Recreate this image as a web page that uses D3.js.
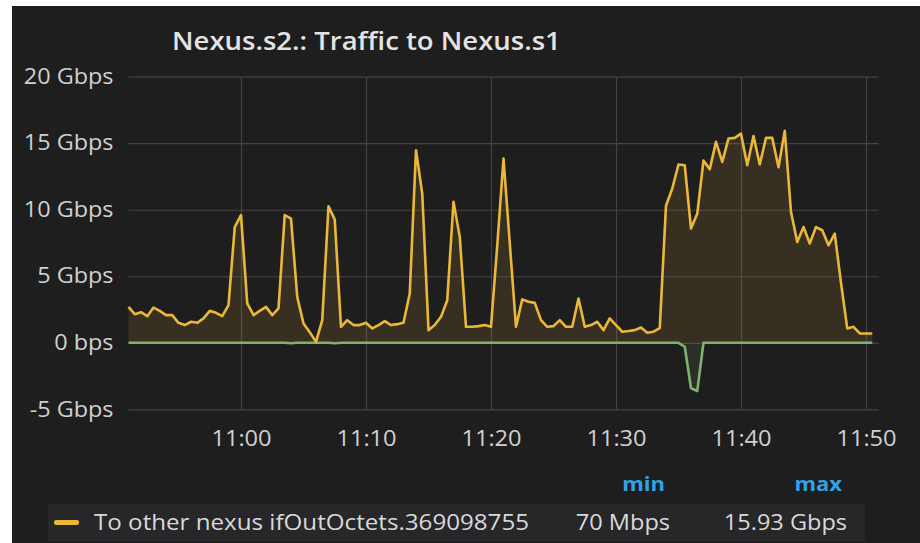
<!DOCTYPE html>
<html><head><meta charset="utf-8">
<script src="https://cdn.jsdelivr.net/npm/d3@7"></script>
<style>body{margin:0;background:#fff}svg{display:block}</style>
</head><body>
<script>
const chartTitle = "Nexus.s2.: Traffic to Nexus.s1";
const times = [
"10:51:00","10:51:30","10:52:00","10:52:30","10:53:00","10:53:30","10:54:00","10:54:30","10:55:00","10:55:30",
"10:56:00","10:56:30","10:57:00","10:57:30","10:58:00","10:58:30","10:59:00","10:59:30","11:00:00","11:00:30",
"11:01:00","11:01:30","11:02:00","11:02:30","11:03:00","11:03:30","11:04:00","11:04:30","11:05:00","11:05:30",
"11:06:00","11:06:30","11:07:00","11:07:30","11:08:00","11:08:30","11:09:00","11:09:30","11:10:00","11:10:30",
"11:11:00","11:11:30","11:12:00","11:12:30","11:13:00","11:13:30","11:14:00","11:14:30","11:15:00","11:15:30",
"11:16:00","11:16:30","11:17:00","11:17:30","11:18:00","11:18:30","11:19:00","11:19:30","11:20:00","11:20:30",
"11:21:00","11:21:30","11:22:00","11:22:30","11:23:00","11:23:30","11:24:00","11:24:30","11:25:00","11:25:30",
"11:26:00","11:26:30","11:27:00","11:27:30","11:28:00","11:28:30","11:29:00","11:29:30","11:30:00","11:30:30",
"11:31:00","11:31:30","11:32:00","11:32:30","11:33:00","11:33:30","11:34:00","11:34:30","11:35:00","11:35:30",
"11:36:00","11:36:30","11:37:00","11:37:30","11:38:00","11:38:30","11:39:00","11:39:30","11:40:00","11:40:30",
"11:41:00","11:41:30","11:42:00","11:42:30","11:43:00","11:43:30","11:44:00","11:44:30","11:45:00","11:45:30",
"11:46:00","11:46:30","11:47:00","11:47:30","11:48:00","11:48:30","11:49:00","11:49:30","11:50:00","11:50:30"
];
// Gbps, "To other nexus ifOutOctets.369098755"
const outGbps = [
2.7,2.15,2.3,2.0,2.65,2.4,2.08,2.08,1.5,1.33,
1.58,1.5,1.83,2.4,2.25,2.0,2.83,8.7,9.6,2.96,
2.08,2.4,2.7,2.08,2.58,9.6,9.33,3.45,1.45,0.8,
0.07,1.7,10.26,9.26,1.2,1.7,1.33,1.33,1.5,1.08,
1.33,1.63,1.33,1.4,1.5,3.7,14.47,11.2,0.95,1.33,
1.95,3.2,10.6,7.96,1.2,1.2,1.25,1.33,1.2,7.3,
13.84,7.5,1.2,3.26,3.08,3.0,1.7,1.2,1.25,1.7,
1.2,1.2,3.33,1.2,1.33,1.58,0.95,1.83,1.33,0.83,
0.88,0.95,1.15,0.75,0.83,1.1,10.3,11.6,13.4,13.34,
8.59,9.7,13.7,13.04,15.1,13.6,15.35,15.4,15.72,13.34,
15.54,13.4,15.4,15.4,13.2,15.93,9.83,7.58,8.7,7.46,
8.7,8.46,7.33,8.2,4.5,1.08,1.2,0.7,0.7,0.7
];
// Gbps, second (unlabelled) series, drawn negative
const inGbps = [
0,0,0,0,0,0,0,0,0,0,
0,0,0,0,0,0,0,0,0,0,
0,0,0,0,0,0,-0.04,0,0,0,
0,0,0,-0.04,0,0,0,0,0,0,
0,0,0,0,0,0,0,0,0,0,
0,0,0,0,0,0,0,0,0,0,
0,0,0,0,0,0,0,0,0,0,
0,0,0,0,0,0,0,0,0,0,
0,0,0,0,0,0,0,0,0,-0.3,
-3.42,-3.62,0,0,0,0,0,0,0,0,
0,0,0,0,0,0,0,0,0,0,
0,0,0,0,0,0,0,0,0,0
];
const yTicks = [-5, 0, 5, 10, 15, 20];
const yTickLabels = ["-5 Gbps", "0 bps", "5 Gbps", "10 Gbps", "15 Gbps", "20 Gbps"];
const xTickLabels = ["11:00", "11:10", "11:20", "11:30", "11:40", "11:50"];
const xDomain = ["10:51:00", "11:51:00"];
const legendName = "To other nexus ifOutOctets.369098755";
const legendHeaders = ["min", "max"];
const legendValues = ["70 Mbps", "15.93 Gbps"];

(function () {
const W = 920, H = 543;
const parse = s => d3.timeParse("%H:%M:%S")(s.length === 5 ? s + ":00" : s);
const svg = d3.select("body").append("svg").attr("width", W).attr("height", H);
const FONT = "'Open Sans', 'Noto Sans', sans-serif";
const stretch = (sel, k) => sel.each(function () {
  const w = this.getComputedTextLength();
  d3.select(this).attr("textLength", w * k).attr("lengthAdjust", "spacingAndGlyphs");
});

svg.append("rect").attr("width", W).attr("height", H).attr("fill", "#ffffff");
svg.append("rect").attr("x", 12).attr("y", 6).attr("width", W - 12).attr("height", H - 6).attr("fill", "#1f1e1f");

const pl = 128.5, pr = 878.5, pt = 76.7, pb = 409.3;
const x = d3.scaleTime().domain(xDomain.map(parse)).range([pl, pr]);
const y = d3.scaleLinear().domain([-5, 20]).range([pb, pt]);

svg.append("text").attr("x", 172).attr("y", 50).text(chartTitle)
  .attr("font-family", FONT).attr("font-size", 25).attr("font-weight", 600).attr("fill", "#e3e3e3")
  .call(stretch, 1.1);

const gy = svg.append("g").attr("transform", `translate(${pl},0)`)
  .call(d3.axisLeft(y).tickValues(yTicks).tickFormat((d, i) => yTickLabels[i])
    .tickSizeInner(-(pr - pl)).tickSizeOuter(0).tickPadding(15));
gy.select(".domain").remove();
gy.selectAll("line").attr("stroke", "#434344").attr("stroke-width", 1.2);
gy.selectAll("text").attr("font-family", FONT).attr("font-size", 21).attr("fill", "#d0d0d0").call(stretch, 1.115);

const gx = svg.append("g").attr("transform", `translate(0,${pb})`)
  .call(d3.axisBottom(x).tickValues(xTickLabels.map(parse)).tickFormat((d, i) => xTickLabels[i])
    .tickSizeInner(-(pb - pt)).tickSizeOuter(0).tickPadding(22));
gx.select(".domain").remove();
gx.selectAll("line").attr("stroke", "#434344").attr("stroke-width", 1.2);
gx.selectAll("text").attr("font-family", FONT).attr("font-size", 21).attr("fill", "#d0d0d0").call(stretch, 1.125);

const outData = times.map((t, i) => ({t: parse(t), v: outGbps[i]}));
const inData = times.map((t, i) => ({t: parse(t), v: inGbps[i]}));

const area = d3.area().x(d => x(d.t)).y0(y(0)).y1(d => y(d.v));
const line = d3.line().x(d => x(d.t)).y(d => y(d.v));

svg.append("path").datum(outData).attr("d", area).attr("fill", "#eab839").attr("fill-opacity", 0.12);
svg.append("path").datum(inData).attr("d", area).attr("fill", "#7eb26d").attr("fill-opacity", 0.12);
svg.append("path").datum(inData).attr("d", line).attr("fill", "none").attr("stroke", "#7eb26d")
  .attr("stroke-width", 2.6).attr("stroke-linejoin", "round");
svg.append("path").datum(outData).attr("d", line).attr("fill", "none").attr("stroke", "#eab839")
  .attr("stroke-width", 2.6).attr("stroke-linejoin", "round");

svg.append("rect").attr("x", 48).attr("y", 504).attr("width", 817).attr("height", 37).attr("fill", "#272628");
svg.append("rect").attr("x", 54).attr("y", 520).attr("width", 25).attr("height", 5).attr("rx", 2).attr("fill", "#eab839");
svg.append("text").attr("x", 94).attr("y", 530).text(legendName)
  .attr("font-family", FONT).attr("font-size", 21).attr("fill", "#d8d9da").call(stretch, 1.15);
const colRight = [670, 847];
const headRight = [665, 842];
legendHeaders.forEach((h, i) => {
  svg.append("text").attr("x", headRight[i]).attr("y", 491).attr("text-anchor", "end").text(h)
    .attr("font-family", FONT).attr("font-size", 20).attr("font-weight", 700).attr("fill", "#33a2e5")
    .call(stretch, 1.1);
  svg.append("text").attr("x", colRight[i]).attr("y", 530).attr("text-anchor", "end").text(legendValues[i])
    .attr("font-family", FONT).attr("font-size", 21).attr("fill", "#d8d9da").call(stretch, 1.12);
});
})();
</script>
</body></html>
